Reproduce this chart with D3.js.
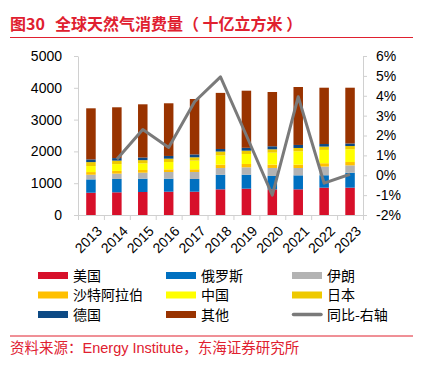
<!DOCTYPE html>
<html><head><meta charset="utf-8">
<script src="https://cdn.jsdelivr.net/npm/d3@7/dist/d3.min.js"></script>
<style>
body{margin:0;background:#fff;}
svg{display:block;font-family:"Liberation Sans","Noto Sans CJK SC",Arial,sans-serif;}
</style></head>
<body>
<svg id="c" width="426" height="369"></svg>
<script>
const years = ["2013","2014","2015","2016","2017","2018","2019","2020","2021","2022","2023"];
const usa     = [700, 713, 723, 733, 733, 807, 828, 807, 807, 860, 860];
const russia  = [420, 420, 420, 410, 400, 460, 440, 420, 440, 390, 470];
const iran    = [146, 168, 188, 209, 220, 210, 231, 252, 231, 273, 231];
const saudi   = [84, 84, 84, 84, 84, 105, 105, 105, 105, 105, 105];
const china   = [189, 215, 210, 231, 273, 294, 314, 377, 420, 419, 399];
const japan   = [125, 110, 100, 105, 105, 120, 105, 105, 105, 105, 104];
const germany = [85, 80, 83, 85, 90, 80, 90, 95, 95, 80, 80];
const totals  = [3355, 3387, 3481, 3513, 3648, 3840, 3909, 3868, 4025, 4003, 4003];
const yoy     = [null, 0.8, 2.3, 1.4, 3.7, 4.95, 2.0, -1.0, 3.95, -0.4, 0.05];
const leftTicks = [0, 1000, 2000, 3000, 4000, 5000];
const rightTicks = [-2, -1, 0, 1, 2, 3, 4, 5, 6];

const others = totals.map((t,i)=> t - usa[i]-russia[i]-iran[i]-saudi[i]-china[i]-japan[i]-germany[i]);
const seriesNames = ["美国","俄罗斯","伊朗","沙特阿拉伯","中国","日本","德国","其他"];
const seriesVals = [usa, russia, iran, saudi, china, japan, germany, others];
const colors = ["#d7102a","#0070c0","#b3b3b3","#ffc000","#ffff00","#eec900","#0d4a85","#993300"];

const svg = d3.select("#c");
const red = "#e0202f";

// title
const title = svg.append("text").attr("x",10).attr("y",30).attr("fill",red)
  .attr("font-size",16).attr("font-weight","bold")
  .attr("font-family","'Noto Sans CJK SC',sans-serif")
  .attr("xml:space","preserve").style("white-space","pre");
title.append("tspan").text("图30");
title.append("tspan").attr("dx",10).text("全球天然气消费量（ 十亿立方米 ）");
svg.append("line").attr("x1",10).attr("x2",413).attr("y1",37.5).attr("y2",37.5)
  .attr("stroke",red).attr("stroke-width",1);

const x0 = 78, x1 = 363, yTop = 56, yBot = 215;
const xb = d3.scaleBand().domain(years).range([x0,x1]).padding(0);
const yL = d3.scaleLinear().domain([0,5000]).range([yBot,yTop]);
const yR = d3.scaleLinear().domain([-2,6]).range([yBot,yTop]);
const axisColor = "#d0d0d0";

// left axis
const gl = svg.append("g").attr("transform",`translate(${x0},0)`)
  .call(d3.axisLeft(yL).tickValues(leftTicks).tickFormat(d3.format("d")).tickSize(4).tickSizeOuter(0).tickPadding(12));
gl.select(".domain").attr("stroke",axisColor);
gl.selectAll(".tick line").attr("stroke",axisColor);
gl.selectAll("text").attr("font-size",14).attr("fill","#000").attr("font-family","'Liberation Sans',Arial,sans-serif");

// right axis
const gr = svg.append("g").attr("transform",`translate(${x1},0)`)
  .call(d3.axisRight(yR).tickValues(rightTicks).tickSize(4).tickSizeOuter(0).tickPadding(9).tickFormat(d=>d+"%"));
gr.select(".domain").attr("stroke",axisColor);
gr.selectAll(".tick line").attr("stroke",axisColor);
gr.selectAll("text").attr("font-size",14).attr("fill","#000").attr("font-family","'Liberation Sans',Arial,sans-serif");

// bottom axis
svg.append("line").attr("x1",x0).attr("x2",x1).attr("y1",yBot+0.5).attr("y2",yBot+0.5).attr("stroke",axisColor);
const edges = years.map(y=>xb(y)).concat([x1]);
svg.selectAll(".xt").data(edges).enter().append("line")
  .attr("x1",d=>d+0.5).attr("x2",d=>d+0.5).attr("y1",yBot).attr("y2",yBot+5).attr("stroke",axisColor);
svg.selectAll(".xl").data(years).enter().append("text")
  .attr("transform",d=>`translate(${xb(d)+xb.bandwidth()/2+5},${yBot+10}) rotate(-45)`)
  .attr("text-anchor","end").attr("dy","0.7em").attr("font-size",14)
  .attr("font-family","'Liberation Sans',Arial,sans-serif").text(d=>d);

// stacked bars
const barW = 9.5;
const stackData = years.map((y,i)=>{const o={year:y}; seriesNames.forEach((n,k)=>o[n]=seriesVals[k][i]); return o;});
const stack = d3.stack().keys(seriesNames)(stackData);
svg.append("g").selectAll("g").data(stack).enter().append("g")
  .attr("fill",(d,i)=>colors[i])
  .selectAll("rect").data(d=>d).enter().append("rect")
  .attr("x",d=>xb(d.data.year)+xb.bandwidth()/2-barW/2)
  .attr("width",barW)
  .attr("y",d=>yL(d[1]))
  .attr("height",d=>yL(d[0])-yL(d[1]));

// yoy line
const lineData = years.map((y,i)=>({year:y,v:yoy[i]})).filter(d=>d.v!==null);
svg.append("path").datum(lineData)
  .attr("fill","none").attr("stroke","#7a7a7a").attr("stroke-width",3).attr("stroke-linejoin","round")
  .attr("d",d3.line().x(d=>xb(d.year)+xb.bandwidth()/2).y(d=>yR(d.v)));

// legend
const legNames = seriesNames.concat(["同比-右轴"]);
const legColors = colors.concat(["#7a7a7a"]);
const colX = [38,166,292];
const rowY = [275.5,295,314.5];
const lg = svg.append("g");
legNames.forEach((n,i)=>{
  const cx = colX[i%3], cy = rowY[Math.floor(i/3)];
  if(i<8){
    lg.append("rect").attr("x",cx).attr("y",cy-3.5).attr("width",30).attr("height",7).attr("fill",legColors[i]);
  } else {
    lg.append("line").attr("x1",cx+1.5).attr("x2",cx+29).attr("y1",cy).attr("y2",cy)
      .attr("stroke",legColors[i]).attr("stroke-width",3.5).attr("stroke-linecap","round");
  }
  lg.append("text").attr("x",cx+35).attr("y",cy).attr("dy","0.36em").attr("font-size",14)
    .attr("font-family","'Noto Sans CJK SC',sans-serif").text(n);
});

// source
svg.append("line").attr("x1",10).attr("x2",413).attr("y1",336).attr("y2",336).attr("stroke",red).attr("stroke-width",1);
svg.append("text").attr("x",10).attr("y",353).attr("fill",red).attr("font-size",14.5)
  .attr("font-family","'Liberation Sans','Noto Sans CJK SC',sans-serif")
  .text("资料来源：Energy Institute，东海证券研究所");
</script>
</body></html>
